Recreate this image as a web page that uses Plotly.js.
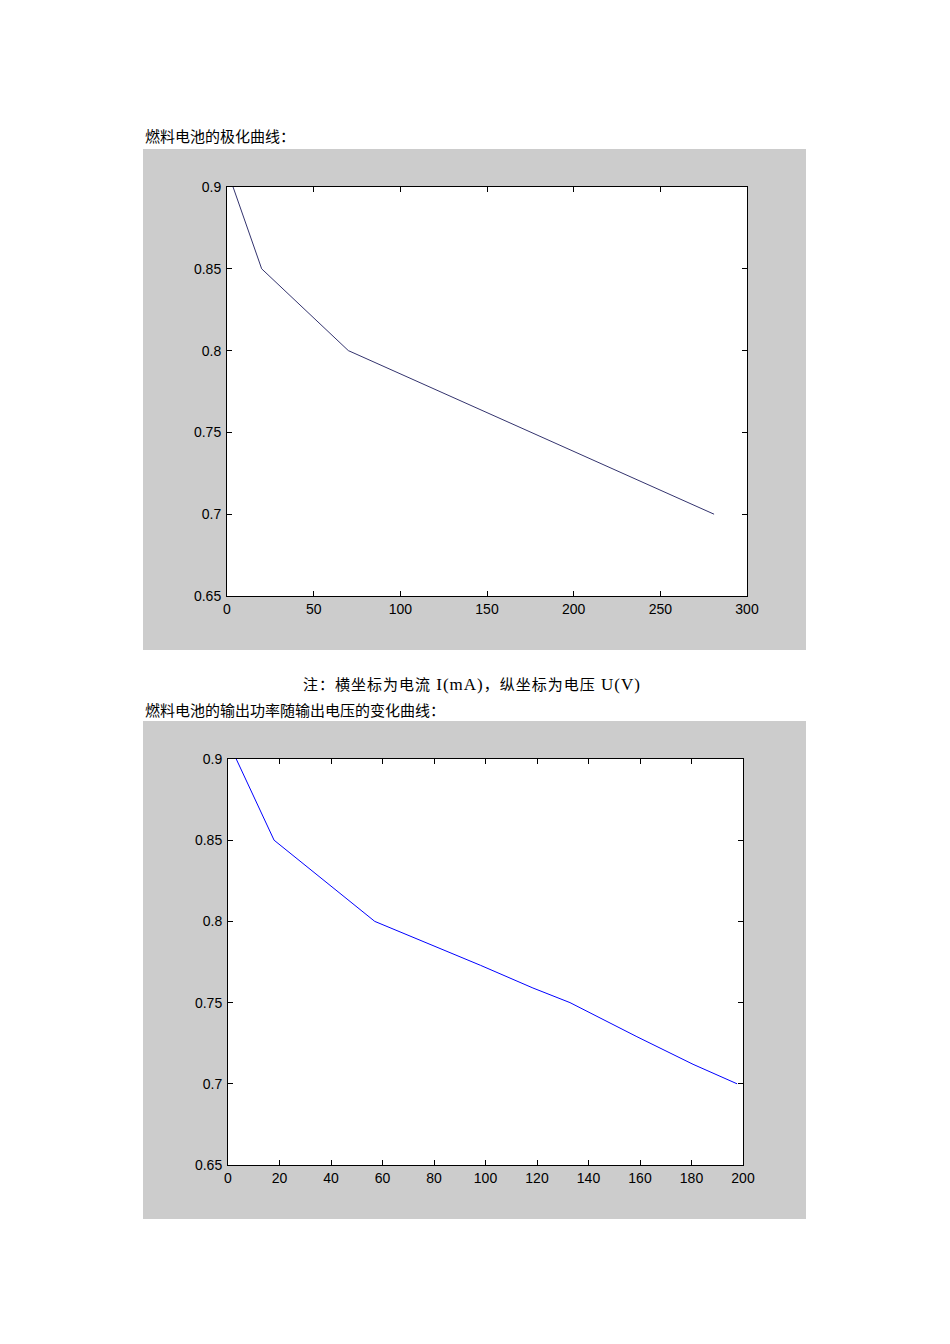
<!DOCTYPE html>
<html lang="zh-CN">
<head>
<meta charset="utf-8">
<script src="https://cdn.plot.ly/plotly-3.0.1.min.js"></script>
<style>
  body { margin: 0; background: #fff; width: 950px; height: 1344px; position: relative; }
  .txt { position: absolute; font-family: "Noto Sans CJK SC", sans-serif; font-size: 15px; color: #000; line-height: 18px; white-space: nowrap; }
  .lat { font-family: "Liberation Serif", "Times New Roman", serif; font-size: 17px; }
  .box { position: absolute; left: 143px; width: 663px; background: #cccccc; }
</style>
</head>
<body>
<div class="txt" style="left:145px; top:127px;">燃料电池的极化曲线：</div>
<div id="chart1" class="box" style="top:149px; height:501px;"></div>
<div class="txt" style="left:303px; top:675px; letter-spacing:1px;">注：横坐标为电流<span class="lat"> I(mA)</span>，纵坐标为电压<span class="lat"> U(V)</span></div>
<div class="txt" style="left:145px; top:701px;">燃料电池的输出功率随输出电压的变化曲线：</div>
<div id="chart2" class="box" style="top:721px; height:498px;"></div>
<script>
// polarisation curve: current (mA) vs voltage (V)
var current = [3.5, 20, 70, 127, 156.5, 175.5, 220, 255.5, 281];
var voltage = [0.9, 0.85, 0.8, 0.773, 0.759, 0.75, 0.729, 0.712, 0.7];
// output power vs output voltage
var power = [3.2, 17.9, 57, 98, 118.4, 132.8, 158.8, 180.6, 197.7];
var voltage2 = [0.9, 0.85, 0.8, 0.773, 0.759, 0.75, 0.729, 0.712, 0.7];

var yTicks = [0.65, 0.7, 0.75, 0.8, 0.85, 0.9];
var yTickText = ['0.65', '0.7', '0.75', '0.8', '0.85', '0.9'];

function axis(range, dtick) {
  return {
    range: range,
    showgrid: false,
    zeroline: false,
    showline: true,
    linecolor: '#000',
    linewidth: 1,
    mirror: 'ticks',
    ticks: 'inside',
    ticklen: 5,
    tickcolor: '#000',
    dtick: dtick,
    tick0: 0,
    tickfont: { family: 'Liberation Sans, Arial, sans-serif', size: 14, color: '#000' },
    fixedrange: true
  };
}

var layout1 = {
  width: 663, height: 501,
  margin: { l: 84, r: 59, t: 38, b: 54 },
  paper_bgcolor: '#cccccc',
  plot_bgcolor: '#ffffff',
  showlegend: false,
  xaxis: axis([0, 300], 50),
  yaxis: Object.assign(axis([0.65, 0.9]), { tickvals: yTicks, ticktext: yTickText, ticklabelstandoff: 2 })
};
layout1.xaxis.ticklabelstandoff = 0;

var layout2 = {
  width: 663, height: 498,
  margin: { l: 85, r: 63, t: 38, b: 54 },
  paper_bgcolor: '#cccccc',
  plot_bgcolor: '#ffffff',
  showlegend: false,
  xaxis: axis([0, 200], 20),
  yaxis: Object.assign(axis([0.65, 0.9]), { tickvals: yTicks, ticktext: yTickText, ticklabelstandoff: 2 })
};
layout2.xaxis.ticklabelstandoff = 0;

Plotly.newPlot('chart1', [{
  x: current, y: voltage, mode: 'lines',
  line: { color: '#33336e', width: 1 }
}], layout1, { staticPlot: true });

Plotly.newPlot('chart2', [{
  x: power, y: voltage2, mode: 'lines',
  line: { color: '#0000ff', width: 1 }
}], layout2, { staticPlot: true });
</script>
</body>
</html>
